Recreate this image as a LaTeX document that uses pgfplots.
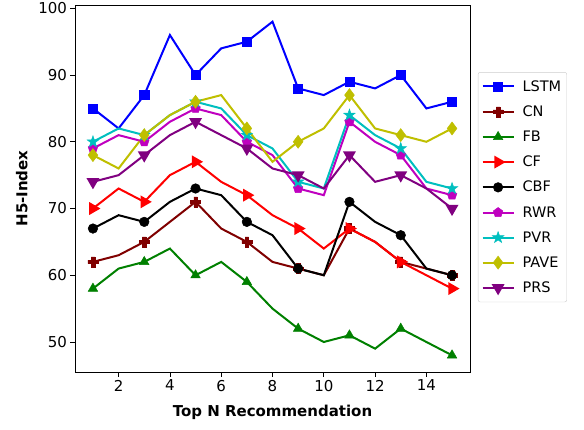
\documentclass[border=0pt]{standalone}
\usepackage{pgfplots}
\pgfplotsset{compat=1.18}
\usepackage{pgfplotstable}
\usepackage{fontspec}
\setmainfont{DejaVu Sans}
\usetikzlibrary{plotmarks}

\pgfdeclareplotmark{Pfill}{%
  \pgfmathsetlengthmacro{\w}{0.36*\pgfplotmarksize}%
  \pgfpathmoveto{\pgfqpoint{-\w}{\pgfplotmarksize}}%
  \pgfpathlineto{\pgfqpoint{\w}{\pgfplotmarksize}}%
  \pgfpathlineto{\pgfqpoint{\w}{\w}}%
  \pgfpathlineto{\pgfqpoint{\pgfplotmarksize}{\w}}%
  \pgfpathlineto{\pgfqpoint{\pgfplotmarksize}{-\w}}%
  \pgfpathlineto{\pgfqpoint{\w}{-\w}}%
  \pgfpathlineto{\pgfqpoint{\w}{-\pgfplotmarksize}}%
  \pgfpathlineto{\pgfqpoint{-\w}{-\pgfplotmarksize}}%
  \pgfpathlineto{\pgfqpoint{-\w}{-\w}}%
  \pgfpathlineto{\pgfqpoint{-\pgfplotmarksize}{-\w}}%
  \pgfpathlineto{\pgfqpoint{-\pgfplotmarksize}{\w}}%
  \pgfpathlineto{\pgfqpoint{-\w}{\w}}%
  \pgfpathclose
  \pgfusepathqfillstroke}
\pgfdeclareplotmark{starfill}{%
  \pgfmathsetlengthmacro{\ri}{0.4*\pgfplotmarksize}%
  \pgfpathmoveto{\pgfpointpolar{90}{\pgfplotmarksize}}%
  \pgfpathlineto{\pgfpointpolar{126}{\ri}}%
  \pgfpathlineto{\pgfpointpolar{162}{\pgfplotmarksize}}%
  \pgfpathlineto{\pgfpointpolar{198}{\ri}}%
  \pgfpathlineto{\pgfpointpolar{234}{\pgfplotmarksize}}%
  \pgfpathlineto{\pgfpointpolar{270}{\ri}}%
  \pgfpathlineto{\pgfpointpolar{306}{\pgfplotmarksize}}%
  \pgfpathlineto{\pgfpointpolar{342}{\ri}}%
  \pgfpathlineto{\pgfpointpolar{18}{\pgfplotmarksize}}%
  \pgfpathlineto{\pgfpointpolar{54}{\ri}}%
  \pgfpathclose
  \pgfusepathqfillstroke}

\definecolor{cLSTM}{rgb}{0,0,1}
\definecolor{cCN}{rgb}{0.5,0,0}
\definecolor{cFB}{rgb}{0,0.5,0}
\definecolor{cCF}{rgb}{1,0,0}
\definecolor{cCBF}{rgb}{0,0,0}
\definecolor{cRWR}{rgb}{0.75,0,0.75}
\definecolor{cPVR}{rgb}{0,0.75,0.75}
\definecolor{cPAVE}{rgb}{0.75,0.75,0}
\definecolor{cPRS}{rgb}{0.5,0,0.5}

\pgfplotstableread{
x lstm cn fb cf cbf rwr pvr pave prs
1 85 62 58 70 67 79 80 78 74
2 82 63 61 73 69 81 82 76 75
3 87 65 62 71 68 80 81 81 78
4 96 68 64 75 71 83 84 84 81
5 90 71 60 77 73 85 86 86 83
6 94 67 62 74 72 84 85 87 81
7 95 65 59 72 68 80 81 82 79
8 98 62 55 69 66 78 79 77 76
9 88 61 52 67 61 73 74 80 75
10 87 60 50 64 60 72 73 82 73
11 89 67 51 67 71 83 84 87 78
12 88 65 49 65 68 80 81 82 74
13 90 62 52 62 66 78 79 81 75
14 85 61 50 60 61 73 74 80 73
15 86 60 48 58 60 72 73 82 70
}\data

\begin{document}
\begin{tikzpicture}
\path[use as bounding box] (-75pt,-57pt) rectangle (509pt,372pt);
\begin{axis}[
  at={(0,0)}, anchor=south west,
  scale only axis, width=395pt, height=367pt,
  xmin=0.3, xmax=15.7, ymin=45.5, ymax=100.5,
  xtick={2,4,...,14}, ytick={50,60,...,100},
  tick pos=left, tick align=outside,
  major tick length=4.5pt,
  tick style={black, line width=0.8pt},
  axis line style={line width=0.8pt},
  font=\fontsize{15}{18}\selectfont,
  /pgf/number format/assume math mode=true,
  xlabel={\bfseries Top N Recommendation},
  ylabel={\bfseries H5-Index},
  xlabel style={yshift=-7pt},
  ylabel style={yshift=4pt},
  every axis plot/.append style={line width=2pt, mark repeat=2, mark phase=1, mark options={solid, line width=0.5pt}},
  legend style={at={(1.02,0.817)}, anchor=north west, draw=black!20, rounded corners=2pt,
    font=\fontsize{14.5}{17}\selectfont, row sep=9pt, inner xsep=3.5pt, inner ysep=6pt,
    /tikz/every odd column/.append style={column sep=6pt}},
  legend cell align=left,
  legend image code/.code={\draw[mark repeat=2,mark phase=2] plot coordinates {(0pt,0pt) (15.5pt,0pt) (31pt,0pt)};},
]
\addplot[color=cLSTM, mark=square*, mark size=4.6pt] table[x=x,y=lstm] {\data};
\addlegendentry{LSTM}
\addplot[color=cCN, mark=Pfill, mark size=5pt] table[x=x,y=cn] {\data};
\addlegendentry{CN}
\addplot[color=cFB, mark=triangle*, mark size=5.5pt] table[x=x,y=fb] {\data};
\addlegendentry{FB}
\addplot[color=cCF, mark=triangle*, mark size=5.5pt, mark options={rotate=-90}] table[x=x,y=cf] {\data};
\addlegendentry{CF}
\addplot[color=cCBF, mark=*, mark size=4.8pt] table[x=x,y=cbf] {\data};
\addlegendentry{CBF}
\addplot[color=cRWR, mark=pentagon*, mark size=5pt] table[x=x,y=rwr] {\data};
\addlegendentry{RWR}
\addplot[color=cPVR, mark=starfill, mark size=6pt] table[x=x,y=pvr] {\data};
\addlegendentry{PVR}
\addplot[color=cPAVE, mark=diamond*, mark size=6.5pt] table[x=x,y=pave] {\data};
\addlegendentry{PAVE}
\addplot[color=cPRS, mark=triangle*, mark size=5.5pt, mark options={rotate=180}] table[x=x,y=prs] {\data};
\addlegendentry{PRS}
\end{axis}
\end{tikzpicture}
\end{document}
